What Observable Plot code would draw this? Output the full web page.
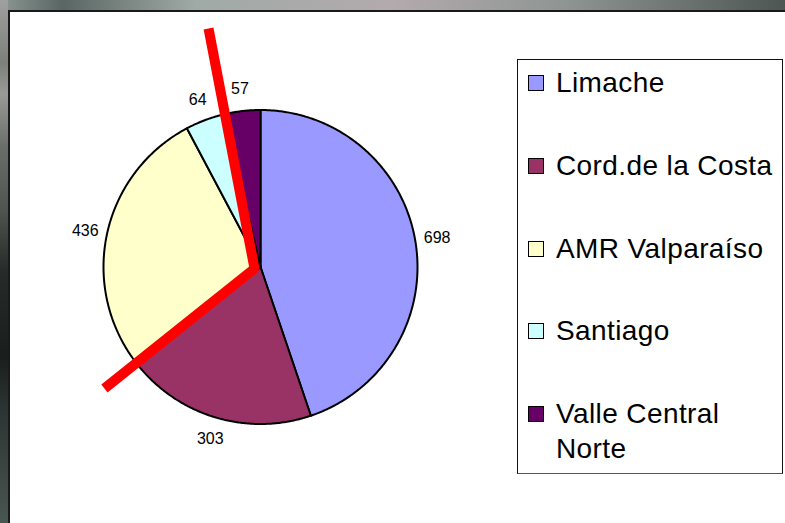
<!DOCTYPE html>
<html>
<head>
<meta charset="utf-8">
<script src="https://cdn.jsdelivr.net/npm/d3@7"></script>
<script src="https://cdn.jsdelivr.net/npm/@observablehq/plot@0.6"></script>
<style>
  html, body { margin: 0; padding: 0; background: #fff; }
  #wrap { position: relative; width: 785px; height: 523px; overflow: hidden;
    background: linear-gradient(90deg, #8c9894 0%, #5a6663 8%, #a0aaa6 25%, #b3aaae 50%, #8f9593 72%, #4e5654 100%); }
  #leftstrip { position: absolute; left: 0; top: 0; width: 8px; height: 523px;
    background: linear-gradient(180deg, #a0a0a0 0%, #7d807a 12%, #9a9a98 18%, #6a6e6a 28%, #505550 40%, #262a28 52%, #1a1e1c 68%, #2a3432 78%, #4a5652 100%); }
  #panel { position: absolute; left: 8px; top: 10px; width: 800px; height: 540px; background: #fff;
    border-left: 2px solid #1a1a1a; border-top: 2px solid #1a1a1a; box-sizing: border-box; }
  #chart { position: absolute; left: 0; top: 0; }
  #legend { position: absolute; left: 517px; top: 59px; width: 266px; height: 415px; box-sizing: border-box;
    border: 1px solid #111; border-bottom-color: #555; background: #fff; padding: 5px 0 0 10px;
    font-family: "Liberation Sans", Arial, sans-serif; font-size: 28px; letter-spacing: 0.4px; color: #000; }
  .item { display: flex; align-items: flex-start; height: 82.75px; line-height: 35px; }
  .sw { width: 16px; height: 16px; box-sizing: border-box; border: 1.5px solid #000; margin-top: 10px; margin-right: 12px; flex: none; }
  .lab { width: 222px; }
</style>
</head>
<body>
<div id="wrap">
  <div id="leftstrip"></div>
  <div id="panel"></div>
  <div id="chart"></div>
  <div id="legend"></div>
</div>
<script>
const categories = ["Limache", "Cord.de la Costa", "AMR Valparaíso", "Santiago", "Valle Central Norte"];
const values = [698, 303, 436, 64, 57];
const colors = ["#9999ff", "#993366", "#ffffcc", "#ccffff", "#660066"];
// hand-drawn red annotation, in pie units (radius = 1)
const annotationX = [-0.331, -0.038, -0.994];
const annotationY = [1.519, -0.01, -0.774];

const total = d3.sum(values);
const slices = [];
const labels = [];
let acc = 0;
categories.forEach((name, i) => {
  const a0 = acc / total * 2 * Math.PI;
  acc += values[i];
  const a1 = acc / total * 2 * Math.PI;
  const n = Math.max(2, Math.ceil((a1 - a0) / (Math.PI / 360)));
  slices.push({name, x: 0, y: 0});
  for (let k = 0; k <= n; k++) {
    const a = a0 + (a1 - a0) * k / n;
    slices.push({name, x: Math.sin(a), y: Math.cos(a)});
  }
  slices.push({name, x: 0, y: 0});
  const m = (a0 + a1) / 2;
  labels.push({name, value: values[i], x: 1.14 * Math.sin(m), y: 1.14 * Math.cos(m)});
});
const annotation = annotationX.map((x, i) => ({x, y: annotationY[i]}));

const cx = 260, cy = 266.5, r = 157;
const chart = Plot.plot({
  width: 785, height: 523,
  margin: 0,
  style: {background: "transparent", overflow: "visible"},
  x: {domain: [-1, 1], range: [cx - r, cx + r], axis: null},
  y: {domain: [-1, 1], range: [cy + r, cy - r], axis: null},
  color: {domain: categories, range: colors},
  marks: [
    Plot.line(slices, {x: "x", y: "y", z: "name", fill: "name", stroke: "#000", strokeWidth: 2, strokeLinejoin: "round", curve: "linear"}),
    Plot.line(annotation, {x: "x", y: "y", stroke: "#ff0000", strokeWidth: 10, strokeLinejoin: "miter", strokeLinecap: "butt"}),
    Plot.text(labels, {x: "x", y: "y", text: d => String(d.value), fill: "#000", fontSize: 16,
      fontFamily: "Liberation Sans, Arial, sans-serif", textAnchor: "middle", lineAnchor: "middle"})
  ]
});
document.getElementById("chart").appendChild(chart);

const legend = d3.select("#legend");
categories.forEach((name, i) => {
  const it = legend.append("div").attr("class", "item");
  it.append("div").attr("class", "sw").style("background", colors[i]);
  it.append("div").attr("class", "lab").text(name);
});
</script>
</body>
</html>
